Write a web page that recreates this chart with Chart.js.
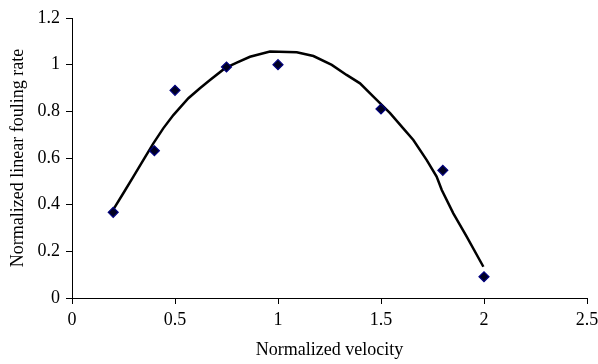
<!DOCTYPE html>
<html>
<head>
<meta charset="utf-8">
<script src="https://cdn.jsdelivr.net/npm/chart.js@4"></script>
<style>
html,body{margin:0;padding:0;background:#fff;}
#wrap{width:598px;height:364px;position:relative;}
</style>
</head>
<body>
<div id="wrap"><canvas id="c" width="598" height="364"></canvas></div>
<script>
const velocity = [0.2, 0.4, 0.5, 0.75, 1.0, 1.5, 1.8, 2.0];
const fouling = [0.367, 0.631, 0.89, 0.99, 1.0, 0.81, 0.547, 0.091];
const trendX = [0.204, 0.249, 0.298, 0.346, 0.395, 0.443, 0.492, 0.565, 0.621, 0.670, 0.743, 0.800, 0.864, 0.961, 1.091, 1.172, 1.261, 1.333, 1.398, 1.463, 1.544, 1.608, 1.657, 1.722, 1.770, 1.795, 1.851, 1.916, 1.997];
const trendY = [0.384, 0.449, 0.520, 0.591, 0.663, 0.727, 0.784, 0.856, 0.899, 0.934, 0.985, 1.009, 1.034, 1.056, 1.053, 1.037, 0.999, 0.956, 0.920, 0.863, 0.792, 0.727, 0.677, 0.591, 0.520, 0.463, 0.363, 0.263, 0.134];
const xTicks = [0, 0.5, 1, 1.5, 2, 2.5];
const yTicks = [0, 0.2, 0.4, 0.6, 0.8, 1, 1.2];
const xTitle = 'Normalized velocity';
const yTitle = 'Normalized linear fouling rate';

const font = {family: '"Liberation Serif", "Times New Roman", serif', size: 18};
const fmt = v => String(+Number(v).toFixed(2));

new Chart(document.getElementById('c'), {
  type: 'scatter',
  data: {
    datasets: [
      {
        data: velocity.map((v, i) => ({x: v, y: fouling[i]})),
        pointStyle: 'rectRot',
        pointRadius: 5,
        backgroundColor: '#000022',
        borderColor: '#000080',
        borderWidth: 1.2,
        order: 1
      },
      {
        data: trendX.map((v, i) => ({x: v, y: trendY[i]})),
        showLine: true,
        pointRadius: 0,
        borderColor: '#000',
        borderWidth: 2.5,
        tension: 0,
        order: 2
      }
    ]
  },
  options: {
    responsive: false,
    animation: false,
    devicePixelRatio: 1,
    layout: {padding: {top: 18, right: 11, left: 0, bottom: 0}},
    plugins: {legend: {display: false}, tooltip: {enabled: false}},
    scales: {
      x: {
        type: 'linear', min: xTicks[0], max: xTicks[xTicks.length - 1],
        afterBuildTicks: s => { s.ticks = xTicks.map(v => ({value: v})); },
        afterFit: s => { s.height = 66; s.paddingLeft = 0; s.paddingRight = 0; },
        ticks: {color: '#000', font: font, padding: 5, maxRotation: 0, autoSkip: false, callback: fmt},
        grid: {drawOnChartArea: false, tickLength: 6, color: '#000', tickColor: '#000'},
        border: {display: true, color: '#000', width: 1},
        title: {display: true, text: xTitle, color: '#000', font: font, padding: {top: 0, bottom: 3}}
      },
      y: {
        type: 'linear', min: yTicks[0], max: yTicks[yTicks.length - 1],
        afterBuildTicks: s => { s.ticks = yTicks.map(v => ({value: v})); },
        afterFit: s => { s.width = 72; s.paddingTop = 0; s.paddingBottom = 0; },
        ticks: {color: '#000', font: font, padding: 6, autoSkip: false, callback: fmt},
        grid: {drawOnChartArea: false, tickLength: 6, color: '#000', tickColor: '#000'},
        border: {display: true, color: '#000', width: 1},
        title: {display: true, text: yTitle, color: '#000', font: font, padding: {top: 7, bottom: 0}}
      }
    }
  }
});
</script>
</body>
</html>
